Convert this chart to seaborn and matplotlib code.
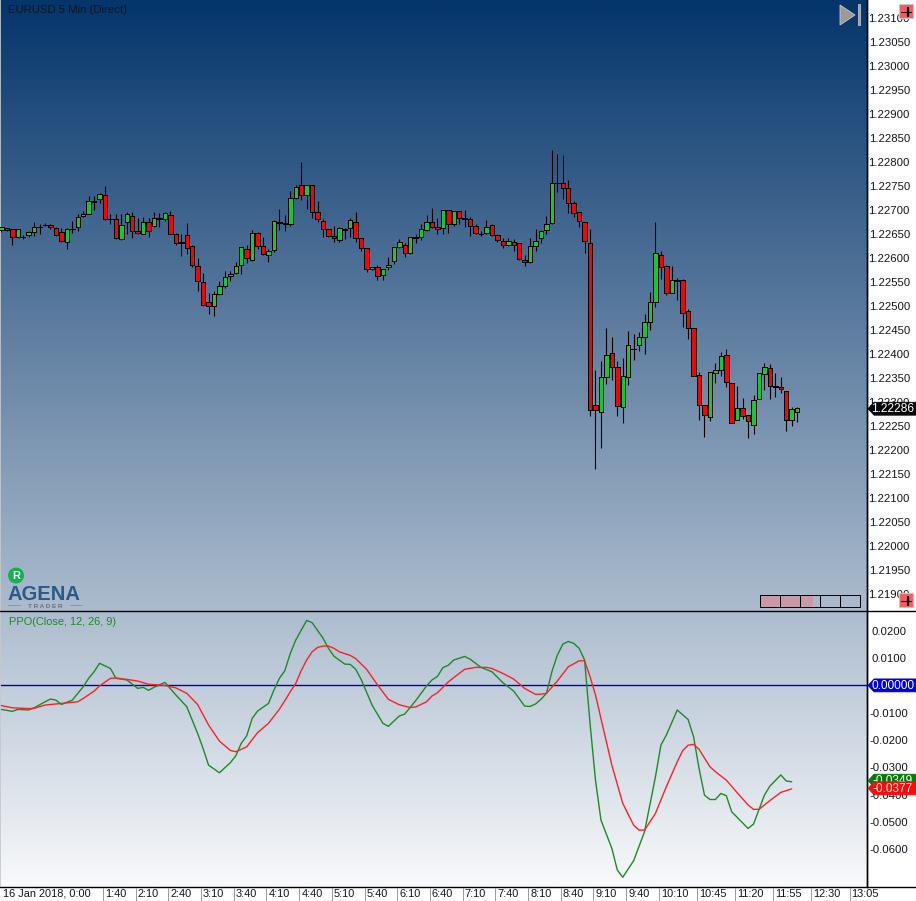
import numpy as np
import pandas as pd
import matplotlib
matplotlib.use("Agg")
import matplotlib.pyplot as plt
from matplotlib.patches import Polygon, Rectangle, Circle
import seaborn as sns

# EURUSD 5 min candles, prices (in 1e-5)
opens = [122658,122662,122660,122643,122644,122647,122655,122665,122669,122669,
         122663,122655,122633,122661,122664,122687,122692,122718,122722,122731,
         122682,122682,122639,122674,122688,122656,122651,122676,122666,122684,
         122681,122690,122651,122631,122647,122626,122584,122549,122509,122499,
         122526,122541,122562,122568,122585,122618,122595,122653,122626,122606,
         122616,122676,122672,122670,122726,122752,122731,122752,122695,122677,
         122660,122645,122637,122661,122662,122674,122641,122620,122577,122581,
         122564,122581,122593,122622,122628,122610,122643,122643,122658,122674,
         122664,122662,122699,122670,122697,122683,122682,122666,122651,122652,
         122668,122647,122636,122627,122634,122631,122595,122591,122624,122641,
         122658,122672,122757,122757,122745,122714,122695,122674,122631,122293,
         122279,122352,122402,122372,122289,122352,122411,122418,122435,122466,
         122508,122606,122583,122527,122554,122554,122489,122454,122356,122293,
         122268,122360,122366,122397,122339,122262,122287,122272,122252,122306,
         122358,122370,122333,122331,122322,122262,122279]
closes = [122664,122658,122643,122660,122643,122655,122665,122664,122668,122664,
          122647,122635,122660,122660,122686,122692,122718,122716,122733,122681,
          122681,122641,122668,122691,122656,122653,122676,122656,122684,122681,
          122693,122651,122631,122634,122620,122585,122553,122503,122501,122524,
          122541,122561,122567,122584,122622,122599,122653,122626,122608,122615,
          122678,122672,122670,122726,122747,122731,122752,122695,122681,122660,
          122645,122641,122663,122658,122679,122641,122620,122577,122581,122563,
          122577,122585,122622,122633,122610,122643,122641,122660,122676,122664,
          122660,122699,122670,122697,122683,122681,122666,122652,122649,122665,
          122647,122637,122627,122636,122627,122597,122591,122624,122636,122657,
          122670,122756,122756,122745,122714,122693,122677,122635,122283,122283,
          122352,122397,122372,122291,122354,122418,122410,122435,122466,122508,
          122610,122581,122527,122554,122552,122485,122454,122355,122293,122272,
          122362,122366,122395,122341,122256,122287,122270,122260,122304,122360,
          122372,122333,122331,122327,122262,122285,122287]
highs = [122665,122663,122660,122661,122647,122656,122675,122671,122672,122671,
         122664,122662,122662,122677,122692,122698,122729,122729,122736,122750,
         122691,122691,122692,122696,122696,122683,122685,122683,122696,122693,
         122696,122697,122653,122651,122672,122628,122599,122568,122528,122531,
         122552,122572,122572,122591,122622,122627,122658,122655,122643,122619,
         122679,122703,122689,122740,122752,122799,122752,122752,122718,122681,
         122660,122667,122664,122663,122683,122696,122641,122620,122582,122585,
         122577,122602,122622,122640,122631,122643,122650,122671,122690,122704,
         122683,122699,122699,122697,122697,122699,122685,122671,122656,122679,
         122671,122649,122642,122642,122639,122631,122606,122642,122660,122659,
         122688,122825,122817,122815,122763,122718,122695,122674,122661,122367,
         122385,122454,122435,122385,122391,122447,122441,122445,122483,122529,
         122674,122614,122585,122583,122558,122556,122493,122454,122362,122293,
         122362,122381,122404,122410,122339,122333,122308,122272,122314,122360,
         122381,122379,122360,122352,122322,122289,122289]
lows = [122655,122656,122628,122642,122640,122643,122646,122651,122667,122661,
        122646,122633,122619,122653,122657,122685,122692,122700,122715,122679,
        122671,122639,122637,122651,122642,122651,122649,122644,122664,122664,
        122678,122649,122627,122605,122608,122582,122532,122501,122484,122480,
        122522,122538,122553,122567,122567,122590,122594,122618,122606,122592,
        122613,122658,122657,122667,122722,122720,122702,122684,122676,122644,
        122643,122634,122634,122639,122643,122634,122615,122570,122574,122555,
        122555,122574,122588,122620,122603,122608,122632,122638,122656,122662,
        122650,122650,122653,122667,122670,122664,122645,122650,122645,122649,
        122645,122633,122620,122624,122615,122596,122584,122590,122615,122631,
        122651,122671,122738,122722,122694,122686,122665,122611,122270,122161,
        122205,122338,122346,122270,122257,122336,122388,122407,122399,122451,
        122497,122557,122522,122527,122513,122457,122432,122355,122263,122228,
        122261,122340,122355,122332,122256,122262,122265,122224,122234,122306,
        122325,122307,122311,122318,122240,122249,122259]

# PPO lines, read at these bars (values in 1e-4)
ppo_bars = [0,2,3,5,6,8,9,10,11,13,15,16,17,18,20,21,23,25,26,27,28,30,32,34,35,36,37,38,40,42,43,44,45,46,47,49,50,51,
            52,53,54,56,57,59,60,61,63,64,65,66,68,70,71,73,74,76,78,79,80,81,82,83,85,86,88,90,92,94,96,97,98,
            99,100,101,102,103,104,105,106,107,108,109,110,112,113,114,116,118,120,121,122,124,126,127,128,129,130,131,132,133,134,137,138,140,141,143,144,145]
ppo_vals = [-88,-95,-88,-90,-82,-60,-50,-54,-70,-54,-5,26,50,81,62,26,20,-11,-7,-18,-7,11,-35,-78,-127,-176,-231,-292,-320,-283,-258,-212,-185,-121,-94,-66,-17,26,
            54,117,166,238,230,173,136,107,78,77,59,22,-72,-139,-150,-112,-105,-56,-2,20,33,65,74,93,106,96,66,50,10,-21,-76,-77,-68,
            -51,-29,50,111,151,161,154,136,93,-139,-347,-493,-597,-676,-703,-642,-536,-335,-219,-182,-90,-125,-188,-304,-402,-418,-418,-396,-404,-463,-524,-508,-402,-369,-328,-350,-353]
signal_bars = [0,2,5,6,8,11,14,15,17,18,20,21,23,25,27,30,32,34,36,38,40,42,43,45,47,49,51,
               52,53,54,55,56,57,58,59,60,61,62,64,65,67,69,71,73,75,76,78,79,80,82,84,85,87,89,90,92,94,96,98,
               99,100,102,104,106,107,108,109,110,112,114,116,117,118,120,122,124,125,126,127,128,130,131,133,135,137,138,139,141,143,145]
signal_vals = [-74,-82,-85,-84,-72,-66,-60,-48,-21,-2,26,27,22,16,4,0,-9,-29,-70,-145,-204,-238,-243,-225,-173,-139,-87,
               -56,-23,7,54,93,123,139,144,144,136,123,110,98,59,2,-51,-71,-81,-79,-60,-39,-27,13,44,59,66,66,62,44,23,-11,-33,
               -32,-29,16,68,90,90,32,-35,-121,-292,-432,-512,-530,-530,-469,-371,-280,-239,-219,-216,-234,-298,-316,-347,-393,-438,-454,-454,-422,-392,-379]

price_ticks = [1.219 + 0.0005 * k for k in range(25)]
ppo_ticks = [0.02, 0.01, -0.01, -0.02, -0.03, -0.04, -0.05, -0.06]
time_labels = ["1:40","2:10","2:40","3:10","3:40","4:10","4:40","5:10","5:40","6:10","6:40","7:10",
               "7:40","8:10","8:40","9:10","9:40","10:10","10:45","11:20","11:55","12:30","13:05"]
time_minutes = [100,130,160,190,220,250,280,310,340,370,400,430,460,490,520,550,580,610,645,680,715,750,785]

last_price = 1.22286
ppo_last = -0.0349
signal_last = -0.0377

sns.set_theme(style="white")
plt.rcParams["font.family"] = ["Liberation Sans", "DejaVu Sans"]
LABEL_SIZE = 8.2

W, H = 916, 901
PANEL_R, SPLIT, PANEL_B = 867, 611, 887
XLIM = (3.67, 799.1)   # minutes since 0:00

df = pd.DataFrame({"open": opens, "high": highs, "low": lows, "close": closes}) / 1e5
df["minute"] = 5 * (df.index + 1)
df["up"] = df["close"] >= df["open"]

ppo = pd.DataFrame({"minute": 5 * (np.array(ppo_bars) + 1), "value": np.array(ppo_vals) / 1e4})
signal = pd.DataFrame({"minute": 5 * (np.array(signal_bars) + 1), "value": np.array(signal_vals) / 1e4})

fig = plt.figure(figsize=(W / 100, H / 100), dpi=100, facecolor="white")

# background gradient behind both panels
ax_bg = fig.add_axes([0, (H - PANEL_B) / H, PANEL_R / W, PANEL_B / H], zorder=0)
grad = np.linspace(0, 1, 400).reshape(-1, 1)
top, bottom = np.array([4, 53, 107]) / 255, np.array([248, 249, 251]) / 255
ax_bg.imshow((top + grad * (bottom - top)).reshape(400, 1, 3), aspect="auto")
ax_bg.axis("off")

ax = fig.add_axes([0, (H - SPLIT) / H, PANEL_R / W, SPLIT / H], zorder=1)
ax2 = fig.add_axes([0, (H - PANEL_B) / H, PANEL_R / W, (PANEL_B - SPLIT) / H], zorder=1)
for a in (ax, ax2):
    a.patch.set_alpha(0)
    a.set_xlim(*XLIM)
    a.set_xticks([])
    a.yaxis.tick_right()
    a.tick_params(axis="y", length=0, labelsize=LABEL_SIZE, labelcolor="#15151f", pad=16)
    a.spines["left"].set_color("#c4c8d0")
    a.spines["top"].set_visible(False)
    a.spines["bottom"].set_visible(False)
    a.spines["right"].set_color("black")
    a.spines["right"].set_linewidth(1)

# candles
ax.vlines(df["minute"], df["low"], df["high"], color="black", lw=0.8, zorder=2)
for up, colour in [(True, "#12c92f"), (False, "#fe0000")]:
    part = df[df["up"] == up]
    ax.bar(part["minute"], (part["close"] - part["open"]).abs(),
           bottom=part[["open", "close"]].min(axis=1), width=4.1,
           color=colour, edgecolor="black", linewidth=0.5, antialiased=False, zorder=3)
ax.set_ylim(1.2310 - 593 * 0.0005 / 24, 1.2310 + 18 * 0.0005 / 24)
ax.set_yticks(price_ticks)
ax.set_yticklabels([f"{t:.5f}" for t in price_ticks], ha="center")

# PPO panel
ax2.axhline(0, color="#0000cc", lw=1, zorder=1)
sns.lineplot(data=ppo, x="minute", y="value", color="#1d8a24", lw=1, estimator=None, ax=ax2, zorder=2)
sns.lineplot(data=signal, x="minute", y="value", color="#fb2222", lw=1, estimator=None, ax=ax2, zorder=3)
ax2.set_xlim(*XLIM)
ax2.set_xticks([])
ax2.set_xlabel("")
ax2.set_ylabel("")
ax2.set_ylim((685.4 - PANEL_B) / 2730, (685.4 - SPLIT) / 2730)
ax2.set_yticks(ppo_ticks)
ax2.set_yticklabels([f"{t:.4f}" for t in ppo_ticks], ha="center")

# overlay in pixels for flags, buttons, logo and the time strip
ov = fig.add_axes([0, 0, 1, 1], zorder=5)
ov.set_xlim(0, W)
ov.set_ylim(H, 0)
ov.axis("off")
ov.patch.set_alpha(0)
ov.plot([0, W], [SPLIT, SPLIT], color="black", lw=1)
ov.plot([0, W], [PANEL_B, PANEL_B], color="black", lw=1)
ov.plot([PANEL_R, PANEL_R], [PANEL_B, 0], color="black", lw=1)


def y_of(axis, value):
    return H - axis.transData.transform((XLIM[0], value))[1]


def flag(y, text, colour, z):
    pts = [(868, y), (874, y - 6.5), (W, y - 6.5), (W, y + 6.5), (874, y + 6.5)]
    ov.add_patch(Polygon(pts, closed=True, facecolor=colour, edgecolor=colour, lw=0.5, zorder=z))
    ov.text(893, y + 0.3, text, color="white", fontsize=LABEL_SIZE + 0.4, ha="center", va="center", zorder=z + 0.5)


flag(y_of(ax, last_price), f"{last_price:.5f}", "#060606", 6)
flag(y_of(ax2, 0), "0.00000", "#0000e0", 6)
flag(y_of(ax2, ppo_last), f"{ppo_last:.4f}", "#067a0c", 7)
flag(y_of(ax2, signal_last), f"{signal_last:.4f}", "#fb0a0a", 8)

ov.text(8, 10, "EURUSD 5 Min (Direct)", fontsize=LABEL_SIZE, color="#10141c", ha="left", va="center")
ov.text(9, 622, "PPO(Close, 12, 26, 9)", fontsize=7.9, color="#1d8a24", ha="left", va="center")

# play button
ov.add_patch(Polygon([(840, 5), (840, 25), (855, 15)], closed=True, facecolor="#9a9a9a", edgecolor="#c8c8c8", lw=0.6))
ov.add_patch(Rectangle((858, 4), 2, 21, facecolor="#a0a0a0", edgecolor="#d0d0d0", lw=0.5))

# small red maximise buttons
for by in (4, 593):
    ov.add_patch(Rectangle((898.5, by), 14.5, 14, facecolor="#f85a60", edgecolor="#c8c8c8", lw=0.8, zorder=9))
    ov.plot([901, 911], [by + 8, by + 8], color="black", lw=0.8, zorder=10)
    ov.plot([908, 908], [by + 4, by + 12], color="black", lw=1.6, zorder=10)

# scroll cells
for cx in [760, 780, 800, 820, 840]:
    ov.add_patch(Rectangle((cx, 595), 20, 12, facecolor="none", edgecolor="black", lw=0.7, zorder=4))
ov.add_patch(Rectangle((760, 595), 53, 12, facecolor="#cc98a8", edgecolor="none", zorder=3))

# logo
ov.add_patch(Circle((16, 575.5), 8, facecolor="#13b24a", edgecolor="none"))
ov.text(16, 576, "R", color="white", fontsize=8, fontweight="bold", ha="center", va="center")
ov.text(8, 595, "AGENA", color="#2a5a86", fontsize=14.5, fontweight="bold", ha="left", va="center")
ov.text(45, 606, "T R A D E R", color="#66727f", fontsize=4.6, ha="center", va="center", fontweight="bold")
ov.plot([8, 20], [605, 605], color="#7f8d9c", lw=0.6)
ov.plot([70, 82], [605, 605], color="#7f8d9c", lw=0.6)

# time strip
px_per_min = PANEL_R / (XLIM[1] - XLIM[0])
ov.text(3, 894, "16 Jan 2018, 0:00", fontsize=7.9, color="#15151f", ha="left", va="center")
for label, m in zip(time_labels, time_minutes):
    sep = (m - XLIM[0]) * px_per_min - 2
    ov.plot([sep, sep], [888, H], color="#9a9a9a", lw=0.7)
    ov.text(sep + 2, 894, label, fontsize=7.9, color="#15151f", ha="left", va="center")

fig.savefig("out.png", dpi=100)
